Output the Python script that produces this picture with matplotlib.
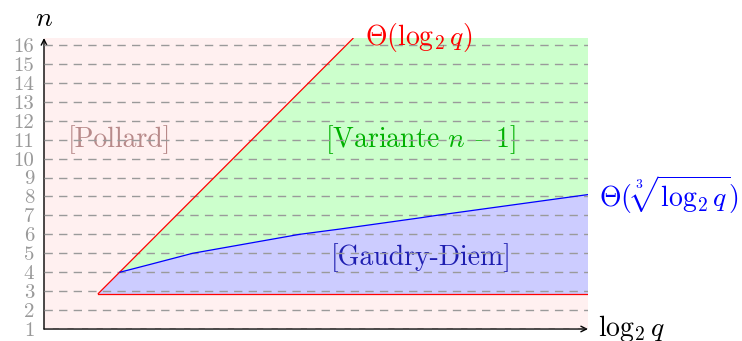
import matplotlib
matplotlib.use("Agg")
import matplotlib.pyplot as plt

plt.rcParams['mathtext.fontset'] = 'cm'
plt.rcParams['axes.unicode_minus'] = False

# ---- data ----
n_ticks = list(range(1, 17))
n_tick_labels = [str(v) for v in n_ticks]
x_max = 28.78
n_top = 16.37

# red diagonal  Theta(log2 q): n = log2 q
red_diag_x = [2.85, 16.37]
red_diag_n = [2.85, 16.37]
# red horizontal base
red_base_x = [2.85, 28.78]
red_base_n = [2.85, 2.85]
# blue curve Theta(cbrt(log2 q))
blue_x = [4.02, 5.61, 7.87, 13.52, 15.66, 16.16, 19.89, 20.76, 28.78]
blue_n = [4.0, 4.41, 5.0, 6.0, 6.28, 6.35, 6.87, 7.0, 8.1]

labels = {
    'pollard': (r'[Pollard]', 4.0, 11.0),
    'variante': (r'[Variante $n-1$]', 19.9, 11.0),
    'gaudry': (r'[Gaudry-Diem]', 19.97, 4.75),
}

# ---- figure ----
W, H = 742, 341
fig = plt.figure(figsize=(W / 100, H / 100), dpi=100)
ax = fig.add_axes([44 / W, 12 / H, 544 / W, 291 / H])
ax.set_xlim(0, x_max)
ax.set_ylim(1, n_top)
ax.set_facecolor('#fff0f0')
for s in ax.spines.values():
    s.set_visible(False)

# green region
gx = [blue_x[0]] + [red_diag_x[1], x_max, x_max] + blue_x[::-1]
gy = [blue_n[0]] + [red_diag_n[1], n_top, blue_n[-1]] + blue_n[::-1]
ax.fill(gx, gy, color='#ccffcc', lw=0, zorder=1)
# blue region
bx = [red_base_x[0]] + blue_x + [x_max]
by = [red_base_n[0]] + blue_n + [red_base_n[0]]
ax.fill(bx, by, color='#ccccff', lw=0, zorder=1)

# grid
ax.hlines(n_ticks, 0, x_max, colors='#9a9a9a', linestyles=(0, (6, 4.5)),
          lw=1.0, zorder=3)

# curves
ax.plot(red_diag_x, red_diag_n, color='#ff0000', lw=0.9, zorder=4,
        solid_capstyle='butt')
ax.plot(red_base_x, red_base_n, color='#ff0000', lw=0.9, zorder=4)
ax.plot(blue_x, blue_n, color='#0000ff', lw=0.9, zorder=4,
        solid_joinstyle='round')

# axes arrows
ax.annotate('', xy=(1, 0), xytext=(0, 0), xycoords='axes fraction',
            arrowprops=dict(arrowstyle='->', lw=1.0, color='black',
                            shrinkA=0, shrinkB=0), zorder=2)
ax.annotate('', xy=(0, 1), xytext=(0, 0), xycoords='axes fraction',
            arrowprops=dict(arrowstyle='->', lw=1.0, color='black',
                            shrinkA=0, shrinkB=0), zorder=2)

# ticks
ax.set_xticks([])
ax.set_yticks(n_ticks)
ax.set_yticklabels(n_tick_labels, fontfamily='cmr10', fontsize=15,
                   color='#999999')
ax.tick_params(axis='y', length=0, pad=7)

# region labels
fs = 20
t, x, y = labels['pollard']
ax.text(x, y, t, color='#b88a8a', fontsize=fs, fontfamily='cmr10',
        ha='center', va='center', zorder=2)
t, x, y = labels['variante']
ax.text(x, y, t, color='#00b000', fontsize=fs, fontfamily='cmr10',
        ha='center', va='center', zorder=2)
t, x, y = labels['gaudry']
ax.text(x, y, t, color='#1e1eb0', fontsize=fs, fontfamily='cmr10',
        ha='center', va='center', zorder=2)

# curve labels
ax.text(16.96, n_top, r'$\Theta(\log_2 q)$', color='#ff0000', fontsize=fs,
        ha='left', va='center', clip_on=False)
ax.text(29.37, 8.08, r'$\Theta(\,\sqrt[3]{\log_2 q})$', color='#0000ff',
        fontsize=fs, ha='left', va='center', clip_on=False)
ax.text(29.3, 1.0, r'$\log_2 q$', color='black', fontsize=fs,
        ha='left', va='center', clip_on=False)
ax.text(0.0, n_top + 1.05, r'$n$', color='black', fontsize=fs,
        ha='center', va='center', clip_on=False)

fig.savefig('out.png', dpi=100)
